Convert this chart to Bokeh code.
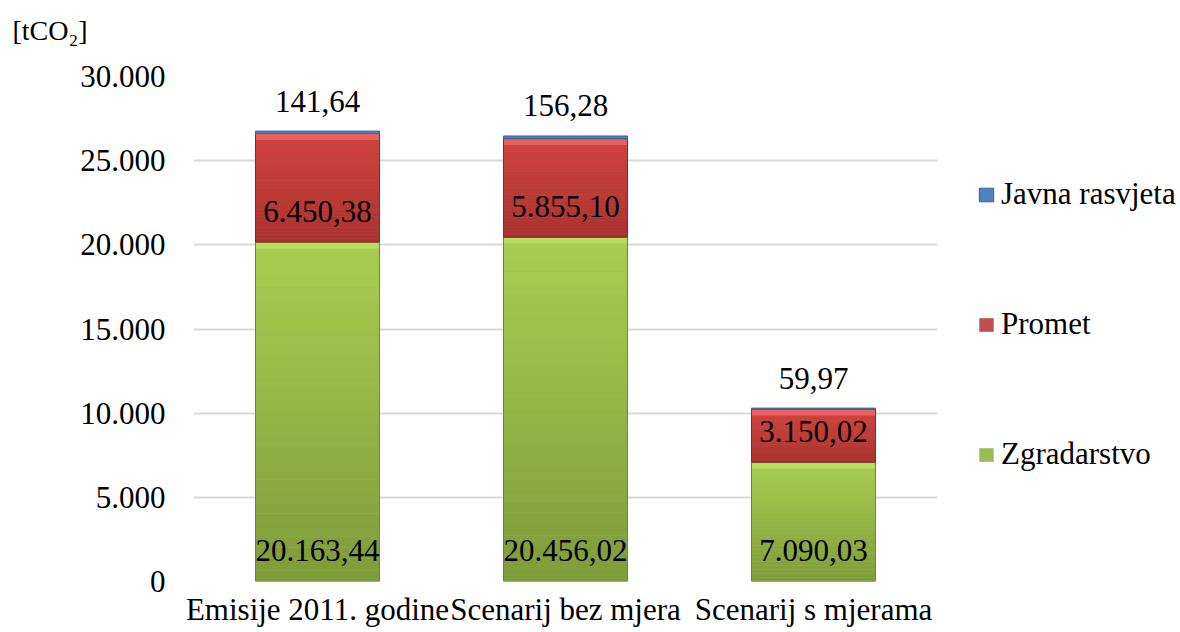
import numpy as np
from bokeh.plotting import figure
from bokeh.models import (FactorRange, Range1d, FixedTicker, Legend, LegendItem,
                          ColumnDataSource, Label)
from bokeh.core.properties import value
from bokeh.embed import file_html
from bokeh.resources import INLINE

categories = ["Emisije 2011. godine", "Scenarij bez mjera", "Scenarij s mjerama"]
zgradarstvo = [20163.44, 20456.02, 7090.03]
promet = [6450.38, 5855.10, 3150.02]
javna_rasvjeta = [141.64, 156.28, 59.97]
y_ticks = [0, 5000, 10000, 15000, 20000, 25000, 30000]
unit_label = "[tCO\u2082]"

FONT = "Liberation Serif"
FS = "31px"


def hr(v, dec=2):
    s = f"{v:,.{dec}f}"
    return s.replace(",", "X").replace(".", ",").replace("X", ".")


def hexc(c):
    return "#%02x%02x%02x" % tuple(int(round(v)) for v in c)


def mix(c1, c2, t):
    a = np.array([int(c1[i:i + 2], 16) for i in (1, 3, 5)], float)
    b = np.array([int(c2[i:i + 2], 16) for i in (1, 3, 5)], float)
    return hexc(a + (b - a) * t)


z = np.array(zgradarstvo)
pr = np.array(promet)
jr = np.array(javna_rasvjeta)
zp = z + pr
tot = zp + jr

p = figure(x_range=FactorRange(*categories), y_range=Range1d(0, 30000),
           frame_width=744, frame_height=505,
           min_border_left=193, min_border_top=76, min_border_right=243,
           min_border_bottom=51,
           output_backend="svg", toolbar_location=None, tools="")
p.outline_line_color = None
p.background_fill_color = "white"

src = ColumnDataSource(dict(cat=categories, z=z, zp=zp, tot=tot,
                            zlab=[hr(v) for v in z], plab=[hr(v) for v in pr],
                            jlab=[hr(v) for v in jr]))

W = 0.5
N = 30


def gradient(bottoms, tops, c_bot, c_top, c_bev, bev=380.0):
    xs, bs, ts, cs = [], [], [], []
    for cat, b, t in zip(categories, bottoms, tops):
        h = t - b
        for k in range(N):
            xs.append(cat)
            bs.append(b + h * k / N)
            ts.append(b + h * (k + 1) / N)
            cs.append(mix(c_bot, c_top, (k + 0.5) / N))
        xs.append(cat)
        bs.append(t - min(bev, h * 0.3))
        ts.append(t)
        cs.append(c_bev)
    return ColumnDataSource(dict(x=xs, b=bs, t=ts, c=cs))


g_green = p.vbar(x="cat", bottom=0, top="z", width=W, source=src,
                 fill_color="#9BBB59", line_color=None)
p.vbar(x="x", bottom="b", top="t", width=W, fill_color="c", line_color=None,
       source=gradient(np.zeros(3), z, "#7E9B3A", "#A9CF50", "#B8DD63"))
p.vbar(x="cat", bottom=0, top="z", width=W, source=src,
       fill_color=None, line_color="#6C8830", line_width=1)

g_red = p.vbar(x="cat", bottom="z", top="zp", width=W, source=src,
               fill_color="#C0504D", line_color=None)
p.vbar(x="x", bottom="b", top="t", width=W, fill_color="c", line_color=None,
       source=gradient(z, zp, "#A8322F", "#D2443F", "#E9625F"))
p.vbar(x="cat", bottom="z", top="zp", width=W, source=src,
       fill_color=None, line_color="#862826", line_width=1)

g_blue = p.vbar(x="cat", bottom="zp", top="tot", width=W, source=src,
                fill_color="#4F81BD", line_color="#3A6597", line_width=1)

tf = value(FONT)
p.text(x="cat", y=0, text="zlab", source=src, text_font=tf, text_font_size=FS,
       text_align="center", text_baseline="alphabetic", y_offset=-31, text_color="black")
p.text(x="cat", y="z", text="plab", source=src, text_font=tf, text_font_size=FS,
       text_align="center", text_baseline="alphabetic", y_offset=-31, text_color="black")
p.text(x="cat", y="tot", text="jlab", source=src, text_font=tf, text_font_size=FS,
       text_align="center", text_baseline="alphabetic", y_offset=-30, text_color="black")

# axes
p.yaxis.ticker = FixedTicker(ticks=y_ticks)
p.yaxis.major_label_overrides = {t: hr(t, 0) if t else "0" for t in y_ticks}
for ax in (p.xaxis[0], p.yaxis[0]):
    ax.axis_line_color = None
    ax.major_tick_line_color = None
    ax.minor_tick_line_color = None
    ax.major_tick_out = 0
    ax.major_tick_in = 0
    ax.major_label_text_font = FONT
    ax.major_label_text_font_size = FS
    ax.major_label_text_color = "black"
p.yaxis.major_label_standoff = 28
p.xaxis.major_label_standoff = 10
p.xgrid.grid_line_color = None
p.ygrid.grid_line_color = "#D9D9D9"
p.ygrid.grid_line_width = 2
p.x_range.range_padding = 0
p.x_range.factor_padding = 0

# legend
legend = Legend(items=[LegendItem(label="Javna rasvjeta", renderers=[g_blue]),
                       LegendItem(label="Promet", renderers=[g_red]),
                       LegendItem(label="Zgradarstvo", renderers=[g_green])],
                location=(40, 109), orientation="vertical",
                glyph_width=18, glyph_height=17, label_height=30, label_standoff=6,
                spacing=94, padding=0, margin=0,
                label_text_font=FONT, label_text_font_size=FS,
                label_text_color="black",
                border_line_color=None, background_fill_alpha=0)
p.add_layout(legend, "right")

# unit label, drawn in the panel above the frame
p.add_layout(Label(x=-181, y=62, x_units="screen", y_units="screen", text=unit_label,
                   text_font=FONT, text_font_size="28px", text_color="black",
                   text_baseline="top"), "above")

open("out.html", "w").write(file_html(p, INLINE))
